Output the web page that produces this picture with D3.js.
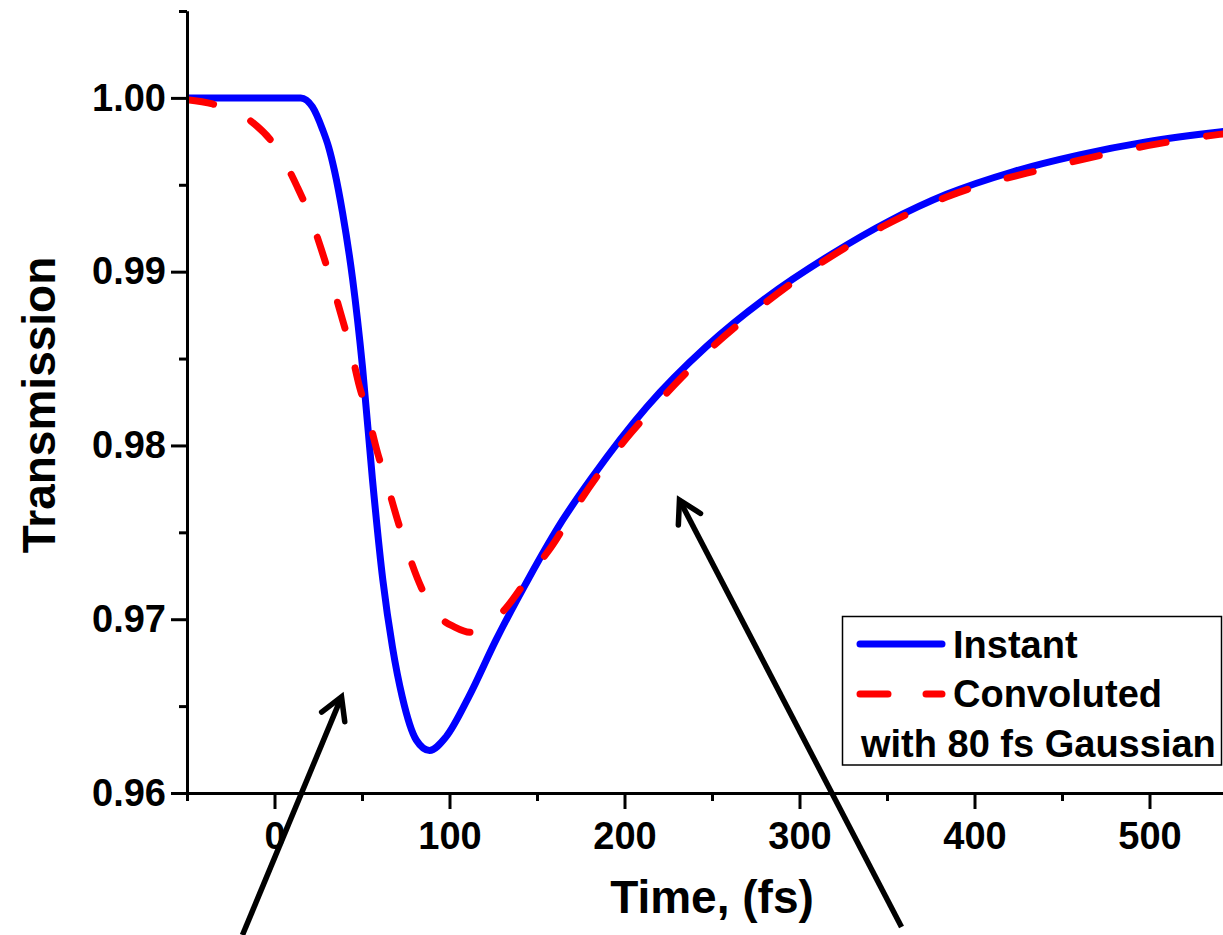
<!DOCTYPE html>
<html>
<head>
<meta charset="utf-8">
<script src="https://cdn.jsdelivr.net/npm/d3@7"></script>
<style>
  html, body { margin: 0; padding: 0; background: #fff; }
  svg { display: block; font-family: "Liberation Sans", Arial, sans-serif; font-weight: bold; }
</style>
</head>
<body>
<svg id="chart" width="1223" height="935"></svg>
<script>
// Instant response: time (fs) and transmission
const instantTime = [-50, 15, 21.7, 27.4, 31, 34.3, 38.9, 44.6, 50.3, 56, 61.9, 67.4, 73, 81, 88.6, 98, 111, 126.6, 145.7, 164.7, 181.7, 212.6, 246.9, 281, 319, 351, 384, 421.9, 460, 498, 540, 550];
const instantValue = [1.0, 1.0, 0.99948, 0.99820, 0.99715, 0.99580, 0.99338, 0.98960, 0.98450, 0.97802, 0.97226, 0.9684, 0.96553, 0.96305, 0.96245, 0.96323, 0.96553, 0.96881, 0.97243, 0.97571, 0.97820, 0.98220, 0.98570, 0.98850, 0.99105, 0.99290, 0.99445, 0.99575, 0.99672, 0.99747, 0.99804, 0.99815];

// Response convoluted with an 80 fs Gaussian
const convTime = [-50, -35.4, -14.3, 1.1, 13, 20, 27.4, 32.6, 38.9, 43.4, 48.6, 53.1, 58.9, 64, 70.3, 75.4, 84, 93.1, 103, 112, 121, 130.3, 146.9, 158.9, 172.6, 201, 214, 233, 249.5, 271, 287.6, 308.6, 325.7, 347.6, 364.6, 384, 441, 498.9, 540, 550];
const convValue = [0.9999, 0.99965, 0.99873, 0.99712, 0.99488, 0.99327, 0.99108, 0.98941, 0.98722, 0.98561, 0.98337, 0.98187, 0.97957, 0.9779, 0.97571, 0.9741, 0.9718, 0.97025, 0.96955, 0.96925, 0.96962, 0.97042, 0.97266, 0.97427, 0.97650, 0.98040, 0.98190, 0.98395, 0.98560, 0.98745, 0.98875, 0.99025, 0.99135, 0.99260, 0.99345, 0.99430, 0.99595, 0.99725, 0.99790, 0.99802];

// Axis ticks
const xMajorTicks = [0, 100, 200, 300, 400, 500];
const xMinorTicks = [-50, 50, 150, 250, 350, 450, 550];
const yMajorTicks = [0.96, 0.97, 0.98, 0.99, 1.00];
const yMinorTicks = [0.965, 0.975, 0.985, 0.995, 1.005];

// Legend entries
const legendLabels = ["Instant", "Convoluted", "with 80 fs Gaussian"];

// Annotation arrows in data units: [tail, tip]
const arrowTails = [[-18.3, 0.95183], [358.3, 0.95229]];
const arrowTips = [[38.3, 0.96553], [231.4, 0.97686]];

const svg = d3.select("#chart");

const x = d3.scaleLinear().domain([-50, 550]).range([187, 1237]);
const y = d3.scaleLinear().domain([0.96, 1.005]).range([793, 11]);

const plotLeft = x(-50), plotTop = y(1.005), plotBottom = y(0.96);

svg.append("defs").append("clipPath").attr("id", "plotClip")
  .append("rect")
  .attr("x", plotLeft).attr("y", plotTop)
  .attr("width", 1223 - plotLeft).attr("height", plotBottom - plotTop);

const lineGen = d3.line()
  .x(d => x(d[0]))
  .y(d => y(d[1]))
  .curve(d3.curveMonotoneX);

const instantData = instantTime.map((t, i) => [t, instantValue[i]]);
const convData = convTime.map((t, i) => [t, convValue[i]]);

const plot = svg.append("g").attr("clip-path", "url(#plotClip)");

plot.append("path")
  .datum(instantData)
  .attr("d", lineGen)
  .attr("fill", "none")
  .attr("stroke", "#0000ff")
  .attr("stroke-width", 7)
  .attr("stroke-linejoin", "round");

plot.append("path")
  .datum(convData)
  .attr("d", lineGen)
  .attr("fill", "none")
  .attr("stroke", "#ff0000")
  .attr("stroke-width", 7)
  .attr("stroke-linecap", "round")
  .attr("stroke-dasharray", "27,41");

// Axes
function styleAxis(g) {
  g.selectAll("path.domain").attr("stroke", "#000").attr("stroke-width", 3);
  g.selectAll(".tick line").attr("stroke", "#000").attr("stroke-width", 3);
  g.selectAll(".tick text")
    .attr("fill", "#000")
    .style("font-family", "'Liberation Sans', Arial, sans-serif")
    .style("font-weight", "bold")
    .style("font-size", "38px");
}

// x axis, minor then major
svg.append("g")
  .attr("transform", `translate(0,${plotBottom})`)
  .call(d3.axisBottom(x).tickValues(xMinorTicks).tickSize(8).tickSizeOuter(0).tickFormat(""))
  .call(styleAxis);
svg.append("g")
  .attr("transform", `translate(0,${plotBottom})`)
  .call(d3.axisBottom(x).tickValues(xMajorTicks).tickSize(16).tickSizeOuter(0).tickPadding(13).tickFormat(d3.format("d")))
  .call(styleAxis);

// y axis, minor then major
svg.append("g")
  .attr("transform", `translate(${plotLeft},0)`)
  .call(d3.axisLeft(y).tickValues(yMinorTicks).tickSize(8).tickSizeOuter(0).tickFormat(""))
  .call(styleAxis);
svg.append("g")
  .attr("transform", `translate(${plotLeft},0)`)
  .call(d3.axisLeft(y).tickValues(yMajorTicks).tickSize(16).tickSizeOuter(0).tickPadding(5).tickFormat(d3.format(".2f")))
  .call(styleAxis);

// Axis titles
svg.append("text")
  .attr("x", 712).attr("y", 913)
  .attr("text-anchor", "middle")
  .style("font-size", "46px")
  .text("Time, (fs)");

svg.append("text")
  .attr("transform", `translate(55,${(plotTop + plotBottom) / 2 + 3}) rotate(-90)`)
  .attr("text-anchor", "middle")
  .style("font-size", "46px")
  .text("Transmission");

// Legend
const legend = svg.append("g");
legend.append("rect")
  .attr("x", 842.5).attr("y", 616.5)
  .attr("width", 379).attr("height", 148.5)
  .attr("fill", "#fff")
  .attr("stroke", "#000").attr("stroke-width", 1.5);

legend.append("line")
  .attr("x1", 860).attr("x2", 942).attr("y1", 644).attr("y2", 644)
  .attr("stroke", "#0000ff").attr("stroke-width", 7).attr("stroke-linecap", "round");
legend.append("line")
  .attr("x1", 860).attr("x2", 942).attr("y1", 694).attr("y2", 694)
  .attr("stroke", "#ff0000").attr("stroke-width", 7).attr("stroke-linecap", "round")
  .attr("stroke-dasharray", "28,38");

legend.append("text").attr("x", 953).attr("y", 658).style("font-size", "38px").text(legendLabels[0]);
legend.append("text").attr("x", 953).attr("y", 707).style("font-size", "38px").text(legendLabels[1]);
legend.append("text").attr("x", 861).attr("y", 757).style("font-size", "38px").text(legendLabels[2]);

// Arrows
const arrows = svg.append("g").attr("stroke", "#000").attr("fill", "none");
arrowTails.forEach((tail, i) => {
  const tip = arrowTips[i];
  const x0 = x(tail[0]), y0 = y(tail[1]);
  const x1 = x(tip[0]), y1 = y(tip[1]);
  arrows.append("line")
    .attr("x1", x0).attr("y1", y0).attr("x2", x1).attr("y2", y1)
    .attr("stroke-width", 5.5);
  const ang = Math.atan2(y0 - y1, x0 - x1);
  const len = 25, spread = Math.PI / 6;
  const a1 = ang + spread, a2 = ang - spread;
  arrows.append("path")
    .attr("d", `M${x1 + len * Math.cos(a1)},${y1 + len * Math.sin(a1)} L${x1},${y1} L${x1 + len * Math.cos(a2)},${y1 + len * Math.sin(a2)}`)
    .attr("stroke-width", 5.5)
    .attr("stroke-linecap", "round")
    .attr("stroke-linejoin", "miter");
});
</script>
</body>
</html>
